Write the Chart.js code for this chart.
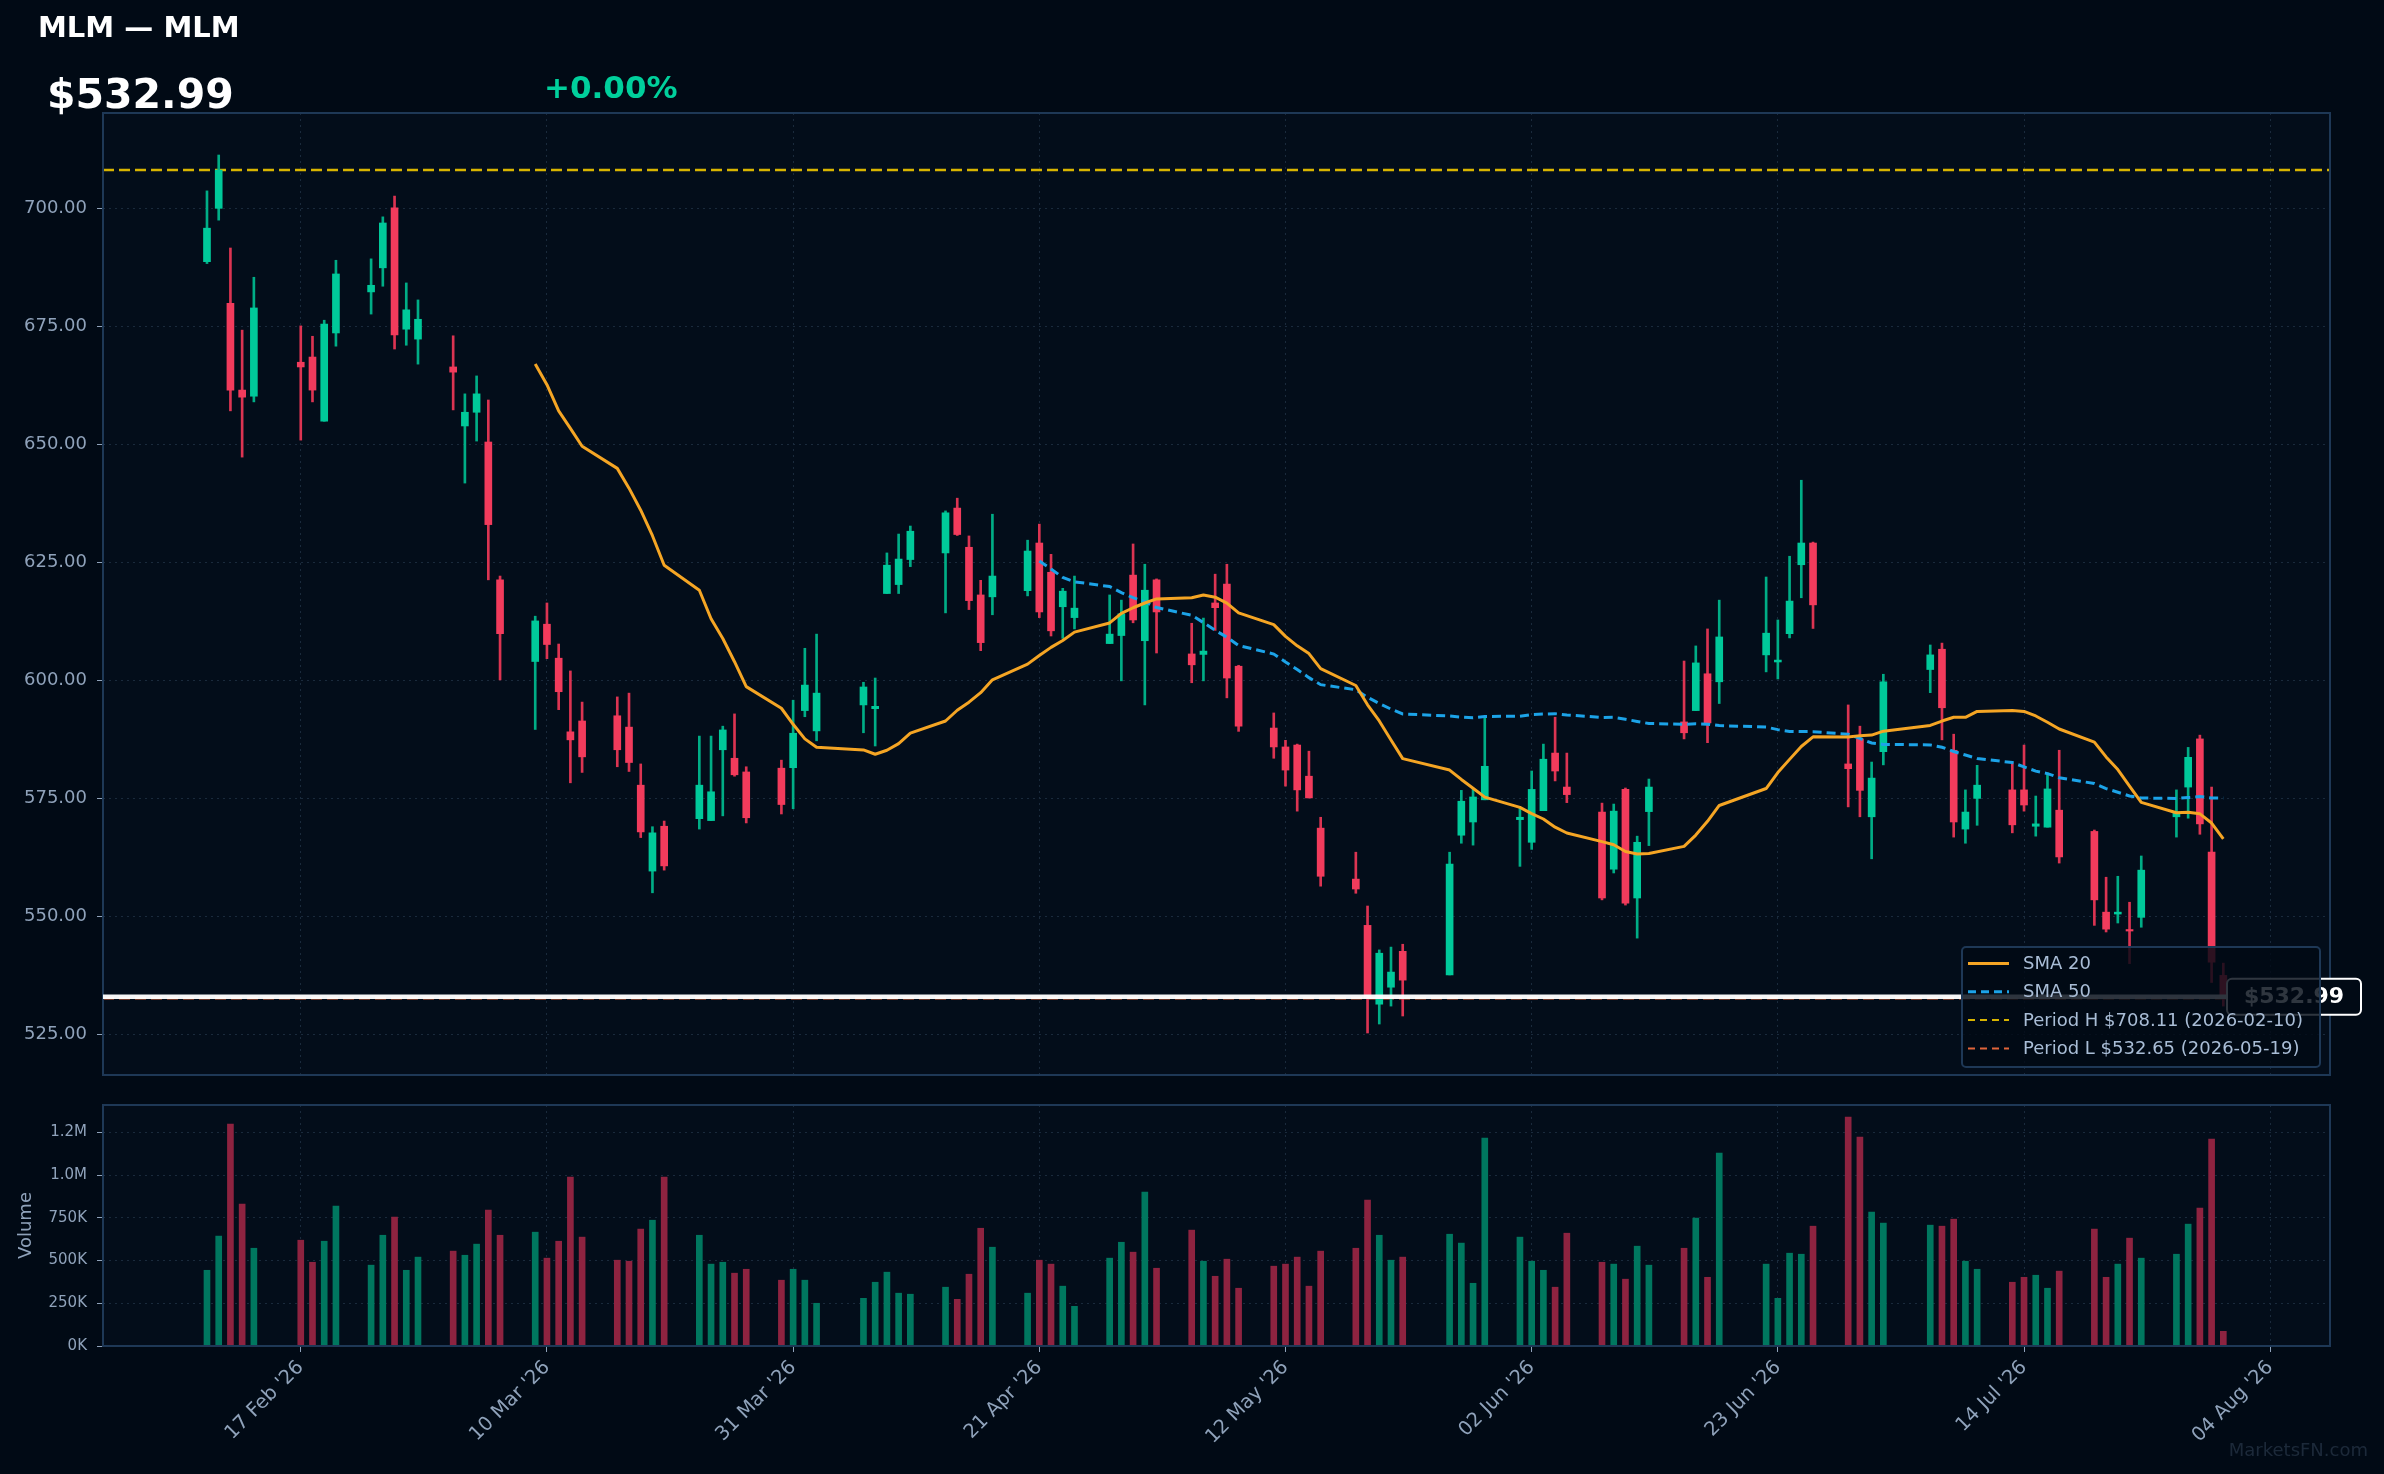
<!DOCTYPE html>
<html>
<head>
<meta charset="utf-8">
<title>MLM — MLM</title>
<script src="https://cdn.jsdelivr.net/npm/chart.js@4.4.1/dist/chart.umd.min.js"></script>
<style>
  html, body { margin: 0; padding: 0; background: #010a15; }
  body { width: 2384px; height: 1474px; position: relative; overflow: hidden; }
  canvas { position: absolute; left: 0; }
  #priceChart { top: 0; }
  #volumeChart { top: 1090px; }
</style>
</head>
<body>
<canvas id="priceChart" width="2384" height="1090"></canvas>
<canvas id="volumeChart" width="2384" height="384"></canvas>
<script>
// Daily sessions
const dates = [
  '2026-02-09','2026-02-10','2026-02-11','2026-02-12','2026-02-13',
  '2026-02-17','2026-02-18','2026-02-19','2026-02-20',
  '2026-02-23','2026-02-24','2026-02-25','2026-02-26','2026-02-27',
  '2026-03-02','2026-03-03','2026-03-04','2026-03-05','2026-03-06',
  '2026-03-09','2026-03-10','2026-03-11','2026-03-12','2026-03-13',
  '2026-03-16','2026-03-17','2026-03-18','2026-03-19','2026-03-20',
  '2026-03-23','2026-03-24','2026-03-25','2026-03-26','2026-03-27',
  '2026-03-30','2026-03-31','2026-04-01','2026-04-02',
  '2026-04-06','2026-04-07','2026-04-08','2026-04-09','2026-04-10',
  '2026-04-13','2026-04-14','2026-04-15','2026-04-16','2026-04-17',
  '2026-04-20','2026-04-21','2026-04-22','2026-04-23','2026-04-24',
  '2026-04-27','2026-04-28','2026-04-29','2026-04-30','2026-05-01',
  '2026-05-04','2026-05-05','2026-05-06','2026-05-07','2026-05-08',
  '2026-05-11','2026-05-12','2026-05-13','2026-05-14','2026-05-15',
  '2026-05-18','2026-05-19','2026-05-20','2026-05-21','2026-05-22',
  '2026-05-26','2026-05-27','2026-05-28','2026-05-29',
  '2026-06-01','2026-06-02','2026-06-03','2026-06-04','2026-06-05',
  '2026-06-08','2026-06-09','2026-06-10','2026-06-11','2026-06-12',
  '2026-06-15','2026-06-16','2026-06-17','2026-06-18',
  '2026-06-22','2026-06-23','2026-06-24','2026-06-25','2026-06-26',
  '2026-06-29','2026-06-30','2026-07-01','2026-07-02',
  '2026-07-06','2026-07-07','2026-07-08','2026-07-09','2026-07-10',
  '2026-07-13','2026-07-14','2026-07-15','2026-07-16','2026-07-17',
  '2026-07-20','2026-07-21','2026-07-22','2026-07-23','2026-07-24',
  '2026-07-27','2026-07-28','2026-07-29','2026-07-30','2026-07-31'
];

const open = [
  688.7, 700.0, 679.9, 661.5, 660.2,
  667.4, 668.5, 654.9, 673.6,
  682.3, 687.4, 700.1, 674.4, 672.3,
  666.4, 653.9, 656.8, 650.5, 621.3,
  604.0, 611.9, 604.7, 589.1, 591.4,
  592.5, 590.1, 577.8, 559.6, 569.1,
  570.7, 570.3, 585.3, 583.5, 580.6,
  581.4, 581.5, 593.6, 589.3,
  594.8, 594.0, 618.4, 620.3, 625.6,
  627.0, 636.5, 628.2, 618.1, 617.7,
  619.0, 629.1, 622.9, 615.6, 613.3,
  607.8, 609.5, 622.3, 608.4, 621.3,
  605.6, 605.5, 616.4, 620.4, 603.0,
  589.9, 585.9, 586.3, 579.7, 568.7,
  557.9, 548.1, 531.4, 535.0, 542.6,
  537.6, 567.2, 570.0, 574.7,
  570.5, 565.7, 572.4, 584.6, 577.4,
  572.1, 560.0, 576.9, 553.9, 572.2,
  591.2, 593.6, 601.4, 599.7,
  605.4, 603.9, 609.9, 624.5, 629.1,
  582.3, 587.6, 571.1, 584.9,
  602.3, 606.6, 585.2, 568.5, 575.0,
  576.8, 576.8, 569.1, 568.9, 572.5,
  568.0, 550.9, 550.5, 547.1, 549.8,
  571.1, 577.4, 587.6, 563.6, 537.5
];

const high = [
  703.7, 711.3, 691.6, 674.2, 685.4,
  675.1, 672.9, 676.3, 689.0,
  689.3, 698.2, 702.6, 684.2, 680.6,
  673.0, 660.7, 664.5, 659.4, 622.1,
  613.6, 616.4, 607.7, 602.0, 595.4,
  596.5, 597.3, 582.3, 569.0, 570.2,
  588.2, 588.2, 590.3, 592.9, 581.7,
  583.1, 595.8, 606.8, 609.8,
  599.6, 600.5, 627.0, 631.0, 632.7,
  635.9, 638.6, 630.6, 621.2, 635.2,
  629.7, 633.1, 626.7, 619.5, 622.1,
  618.1, 617.0, 628.9, 624.6, 621.5,
  612.1, 613.2, 622.5, 624.6, 603.2,
  593.1, 587.3, 586.5, 585.0, 571.0,
  563.6, 552.2, 542.9, 543.5, 544.1,
  563.6, 576.7, 577.1, 592.4,
  572.9, 580.8, 586.5, 592.2, 584.6,
  574.0, 573.8, 577.2, 567.0, 579.1,
  604.1, 607.3, 610.9, 617.0,
  621.9, 612.8, 626.3, 642.4, 629.3,
  594.8, 590.3, 582.7, 601.3,
  607.5, 607.9, 588.6, 576.8, 582.0,
  582.5, 586.3, 575.5, 580.4, 585.2,
  568.3, 558.3, 558.5, 553.0, 562.8,
  576.8, 585.8, 588.4, 577.4, 540.1
];

const low = [
  688.3, 697.5, 657.1, 647.3, 659.0,
  650.9, 659.0, 654.9, 670.8,
  677.6, 683.5, 670.2, 671.0, 667.0,
  657.3, 641.8, 650.7, 621.3, 600.1,
  589.6, 604.6, 593.8, 578.3, 580.5,
  581.7, 580.7, 566.7, 555.0, 559.8,
  568.5, 570.3, 571.3, 579.7, 569.8,
  571.7, 572.8, 592.3, 587.2,
  588.9, 586.1, 618.4, 618.4, 624.1,
  614.3, 630.7, 615.0, 606.3, 613.9,
  617.9, 613.3, 609.4, 608.9, 610.9,
  607.8, 599.9, 612.2, 594.8, 605.8,
  599.5, 599.9, 610.6, 596.3, 589.2,
  583.5, 577.6, 572.3, 575.1, 556.4,
  554.9, 525.3, 527.2, 531.0, 528.9,
  537.6, 565.5, 565.1, 574.7,
  560.6, 564.2, 572.4, 578.7, 574.1,
  553.5, 559.2, 552.4, 545.4, 565.0,
  587.6, 593.6, 586.8, 595.1,
  601.8, 600.3, 609.0, 617.5, 611.0,
  573.2, 571.1, 562.2, 582.1,
  597.4, 587.4, 566.8, 565.5, 569.3,
  567.7, 572.3, 567.0, 568.9, 561.3,
  548.1, 546.7, 548.6, 540.0, 547.7,
  566.8, 570.8, 567.4, 536.0, 531.0
];

const close = [
  695.8, 708.11, 661.5, 660.0, 678.9,
  666.4, 661.5, 675.5, 686.1,
  683.7, 696.9, 673.2, 678.5, 676.5,
  665.3, 656.8, 660.7, 633.0, 609.9,
  612.6, 607.6, 597.6, 587.4, 583.8,
  585.3, 582.6, 567.9, 567.7, 560.7,
  577.8, 576.4, 589.5, 580.0, 570.9,
  573.7, 588.8, 599.0, 597.3,
  598.6, 594.5, 624.4, 625.7, 631.6,
  635.5, 630.9, 616.9, 608.0, 622.1,
  627.4, 614.5, 610.5, 618.9, 615.3,
  609.8, 614.1, 612.8, 619.1, 614.5,
  603.3, 606.2, 615.4, 600.5, 590.3,
  585.9, 581.0, 576.8, 575.1, 558.5,
  555.8, 532.65, 542.2, 538.2, 536.5,
  561.1, 574.4, 575.3, 581.8,
  571.0, 576.9, 583.3, 580.8, 575.8,
  553.9, 572.3, 552.8, 565.7, 577.4,
  588.9, 603.7, 591.0, 609.2,
  610.0, 604.3, 616.8, 629.1, 616.0,
  581.3, 576.7, 579.3, 599.7,
  605.4, 594.2, 570.0, 572.1, 577.8,
  569.4, 573.6, 569.6, 577.0, 562.6,
  553.5, 547.3, 550.9, 546.9, 559.8,
  572.1, 583.7, 569.6, 540.3, 532.99
];

const volume = [
  443000, 643000, 1299000, 830000, 572000,
  619000, 490000, 613000, 818000,
  473000, 648000, 754000, 443000, 520000,
  555000, 531000, 596000, 795000, 648000,
  666000, 514000, 613000, 988000, 637000,
  502000, 496000, 684000, 736000, 988000,
  648000, 479000, 490000, 426000, 449000,
  385000, 449000, 385000, 250000,
  279000, 373000, 432000, 309000, 303000,
  344000, 273000, 420000, 689000, 578000,
  309000, 502000, 479000, 350000, 232000,
  514000, 607000, 549000, 900000, 455000,
  678000, 496000, 408000, 508000, 338000,
  467000, 479000, 520000, 350000, 555000,
  572000, 854000, 648000, 502000, 520000,
  654000, 602000, 367000, 1217000,
  637000, 496000, 443000, 344000, 660000,
  490000, 479000, 391000, 584000, 473000,
  572000, 748000, 402000, 1129000,
  479000, 279000, 543000, 537000, 701000,
  1340000, 1223000, 783000, 719000,
  707000, 701000, 742000, 496000, 449000,
  373000, 402000, 414000, 338000, 438000,
  684000, 402000, 479000, 631000, 514000,
  537000, 713000, 807000, 1211000, 86000
];

const yTicks = [525, 550, 575, 600, 625, 650, 675, 700];
const volTicks = [0, 250000, 500000, 750000, 1000000, 1250000];
const volTickLabels = ['0K', '250K', '500K', '750K', '1.0M', '1.2M'];
const xTickDates = ['2026-02-17', '2026-03-10', '2026-03-31', '2026-04-21', '2026-05-12',
                    '2026-06-02', '2026-06-23', '2026-07-14', '2026-08-04'];
const xTickLabels = ["17 Feb '26", "10 Mar '26", "31 Mar '26", "21 Apr '26", "12 May '26",
                     "02 Jun '26", "23 Jun '26", "14 Jul '26", "04 Aug '26"];

const ticker = 'MLM';
const changeText = '+0.00%';

// axis ranges (days counted from the first session)
const xMin = -8.87, xMax = 181.1;
const yMin = 516.4, yMax = 720.2;
const volMax = 1410000;

// colours
const BG = '#010a15';
const PLOT_BG = '#030d1a';
const FRAME = '#1e3856';
const GRID = '#1a2a3c';
const TICK = '#8fa2ba';
const UP = '#00c99a', DOWN = '#f23b5c';
const UP_WICK = '#00ad86', DOWN_WICK = '#dc3452';
const UP_VOL = '#00775f', DOWN_VOL = '#8e2340';
const SMA20_COLOR = '#f5a524', SMA50_COLOR = '#1ca3e8';
const HI_COLOR = '#d8b400', LO_COLOR = '#e0643a';

Chart.defaults.font.family = "'DejaVu Sans', sans-serif";

const day0 = Date.parse(dates[0]);
const toDay = s => (Date.parse(s) - day0) / 864e5;
const days = dates.map(toDay);
const xTickDays = xTickDates.map(toDay);
const isUp = close.map((c, i) => c >= open[i]);

const lastClose = close[close.length - 1];
const periodHigh = Math.max(...close);
const periodLow = Math.min(...close);
const periodHighDate = dates[close.indexOf(periodHigh)];
const periodLowDate = dates[close.indexOf(periodLow)];

function sma(values, n) {
  const out = [];
  for (let i = n - 1; i < values.length; i++) {
    let sum = 0;
    for (let j = i - n + 1; j <= i; j++) sum += values[j];
    out.push({ x: days[i], y: sum / n });
  }
  return out;
}

// keep the plot areas exactly where the padding puts them
function fixY(s) { s.width = 103; s.paddingTop = 0; s.paddingBottom = 0; }
function fixX(h) { return s => { s.height = h; s.paddingLeft = 0; s.paddingRight = 0; }; }

// plot background + frame, shared by both panels
const panelPlugin = {
  id: 'panel',
  beforeDraw(chart) {
    const { ctx, chartArea: a } = chart;
    ctx.save();
    ctx.fillStyle = PLOT_BG;
    ctx.fillRect(a.left, a.top, a.width, a.height);
    ctx.restore();
  },
  afterDatasetsDraw(chart) {
    const { ctx, chartArea: a } = chart;
    ctx.save();
    ctx.strokeStyle = FRAME;
    ctx.lineWidth = 2;
    ctx.strokeRect(a.left, a.top, a.width, a.height);
    ctx.restore();
  }
};

function roundRect(ctx, x, y, w, h, r) {
  ctx.beginPath();
  ctx.moveTo(x + r, y);
  ctx.arcTo(x + w, y, x + w, y + h, r);
  ctx.arcTo(x + w, y + h, x, y + h, r);
  ctx.arcTo(x, y + h, x, y, r);
  ctx.arcTo(x, y, x + w, y, r);
  ctx.closePath();
}

// header, last price line + tag, legend
const pricePlugin = {
  id: 'priceExtras',
  afterDraw(chart) {
    const { ctx, chartArea: a } = chart;
    const yScale = chart.scales.y;
    ctx.save();

    // header
    ctx.textBaseline = 'alphabetic';
    ctx.textAlign = 'left';
    ctx.fillStyle = '#ffffff';
    ctx.font = "bold 29px 'DejaVu Sans'";
    ctx.fillText(`${ticker} — ${ticker}`, 38, 37);
    ctx.font = "bold 41px 'DejaVu Sans'";
    ctx.fillText('$' + lastClose.toFixed(2), 47, 108);
    ctx.fillStyle = '#00d09c';
    ctx.font = "bold 31px 'DejaVu Sans'";
    ctx.fillText(changeText, 544, 98);

    // last price line
    const py = yScale.getPixelForValue(lastClose);
    const tagX = 2227, tagW = 134, tagH = 36;
    ctx.strokeStyle = 'rgba(255,255,255,0.96)';
    ctx.lineWidth = 4.5;
    ctx.beginPath();
    ctx.moveTo(a.left, py);
    ctx.lineTo(tagX, py);
    ctx.stroke();

    roundRect(ctx, tagX, py - tagH / 2, tagW, tagH, 5);
    ctx.fillStyle = BG;
    ctx.fill();
    ctx.strokeStyle = '#ffffff';
    ctx.lineWidth = 2;
    ctx.stroke();
    ctx.fillStyle = '#ffffff';
    ctx.font = "bold 22px 'DejaVu Sans'";
    ctx.textAlign = 'center';
    ctx.textBaseline = 'middle';
    ctx.fillText('$' + lastClose.toFixed(2), tagX + tagW / 2, py + 1);

    // legend
    const items = [
      { text: 'SMA 20', color: SMA20_COLOR, dash: [], width: 3 },
      { text: 'SMA 50', color: SMA50_COLOR, dash: [8, 5], width: 3 },
      { text: `Period H $${periodHigh.toFixed(2)} (${periodHighDate})`, color: HI_COLOR, dash: [7, 5], width: 2 },
      { text: `Period L $${periodLow.toFixed(2)} (${periodLowDate})`, color: LO_COLOR, dash: [7, 5], width: 2 }
    ];
    const lx = 1962, ly = 947, lw = 358, lh = 120;
    roundRect(ctx, lx, ly, lw, lh, 4);
    ctx.fillStyle = 'rgba(1,10,21,0.82)';
    ctx.fill();
    ctx.strokeStyle = FRAME;
    ctx.lineWidth = 2;
    ctx.stroke();

    ctx.font = "18px 'DejaVu Sans'";
    ctx.textAlign = 'left';
    ctx.textBaseline = 'middle';
    items.forEach((it, i) => {
      const ry = 963.5 + i * 28.3;
      ctx.strokeStyle = it.color;
      ctx.lineWidth = it.width;
      ctx.setLineDash(it.dash);
      ctx.beginPath();
      ctx.moveTo(1968, ry);
      ctx.lineTo(2009, ry);
      ctx.stroke();
      ctx.setLineDash([]);
      ctx.fillStyle = '#a9bdd6';
      ctx.fillText(it.text, 2023, ry + 1);
    });

    ctx.restore();
  }
};

const watermarkPlugin = {
  id: 'watermark',
  afterDraw(chart) {
    const { ctx } = chart;
    ctx.save();
    ctx.font = "18px 'DejaVu Sans'";
    ctx.fillStyle = 'rgba(80,100,125,0.35)';
    ctx.textAlign = 'right';
    ctx.textBaseline = 'middle';
    ctx.fillText('MarketsFN.com', 2368, 361);
    ctx.restore();
  }
};

const priceChart = new Chart(document.getElementById('priceChart'), {
  type: 'bar',
  data: {
    datasets: [
      {
        type: 'line', label: 'SMA 20', data: sma(close, 20),
        borderColor: SMA20_COLOR, borderWidth: 3, pointRadius: 0,
        borderJoinStyle: 'round', order: 0
      },
      {
        type: 'line', label: 'SMA 50', data: sma(close, 50),
        borderColor: SMA50_COLOR, borderWidth: 3, borderDash: [9, 5], pointRadius: 0, order: 1
      },
      {
        label: 'Body', data: days.map((d, i) => ({ x: d, y: [open[i], close[i]] })),
        backgroundColor: isUp.map(u => u ? UP : DOWN),
        barThickness: 7, minBarLength: 1.5, grouped: false, order: 2
      },
      {
        label: 'Wick', data: days.map((d, i) => ({ x: d, y: [low[i], high[i]] })),
        backgroundColor: isUp.map(u => u ? UP_WICK : DOWN_WICK),
        barThickness: 2, grouped: false, order: 3
      },
      {
        type: 'line', label: 'Period H', data: [{ x: xMin, y: periodHigh }, { x: xMax, y: periodHigh }],
        borderColor: HI_COLOR, borderWidth: 2.5, borderDash: [11, 5], pointRadius: 0, order: 4
      },
      {
        type: 'line', label: 'Period L', data: [{ x: xMin, y: periodLow }, { x: xMax, y: periodLow }],
        borderColor: LO_COLOR, borderWidth: 2.5, borderDash: [11, 5], pointRadius: 0, order: 5
      }
    ]
  },
  options: {
    responsive: false,
    animation: false,
    layout: { padding: { left: 0, top: 113, right: 54, bottom: 15 } },
    plugins: { legend: { display: false }, tooltip: { enabled: false } },
    scales: {
      x: {
        type: 'linear', min: xMin, max: xMax, offset: false,
        grid: { color: GRID, lineWidth: 1, drawTicks: false, offset: false },
        border: { display: false, dash: [2, 4] },
        ticks: { display: false },
        afterBuildTicks: s => { s.ticks = xTickDays.map(v => ({ value: v })); },
        afterFit: fixX(0)
      },
      y: {
        type: 'linear', min: yMin, max: yMax, position: 'left',
        grid: { color: GRID, lineWidth: 1, drawTicks: true, tickLength: 6, tickColor: TICK },
        border: { display: false, dash: [2, 4] },
        ticks: { color: TICK, font: { size: 18 }, padding: 10, callback: v => v.toFixed(2) },
        afterBuildTicks: s => { s.ticks = yTicks.map(v => ({ value: v })); },
        afterFit: fixY
      }
    }
  },
  plugins: [panelPlugin, pricePlugin]
});

const volumeChart = new Chart(document.getElementById('volumeChart'), {
  type: 'bar',
  data: {
    datasets: [{
      label: 'Volume',
      data: days.map((d, i) => ({ x: d, y: volume[i] })),
      backgroundColor: isUp.map(u => u ? UP_VOL : DOWN_VOL),
      barThickness: 6, grouped: false
    }]
  },
  options: {
    responsive: false,
    animation: false,
    layout: { padding: { left: 0, top: 15, right: 54, bottom: 0 } },
    plugins: { legend: { display: false }, tooltip: { enabled: false } },
    scales: {
      x: {
        type: 'linear', min: xMin, max: xMax, offset: false,
        grid: { color: GRID, lineWidth: 1, drawTicks: true, tickLength: 6, tickColor: TICK, offset: false },
        border: { display: false, dash: [2, 4] },
        ticks: {
          color: TICK, font: { size: 19.5 }, minRotation: 45, maxRotation: 45,
          autoSkip: false, padding: 4, callback: (v, i) => xTickLabels[i]
        },
        afterBuildTicks: s => { s.ticks = xTickDays.map(v => ({ value: v })); },
        afterFit: fixX(128)
      },
      y: {
        type: 'linear', min: 0, max: volMax, position: 'left',
        grid: { color: GRID, lineWidth: 1, drawTicks: true, tickLength: 6, tickColor: TICK },
        border: { display: false, dash: [2, 4] },
        ticks: { color: TICK, font: { size: 15 }, padding: 10, callback: (v, i) => volTickLabels[i] },
        title: { display: true, text: 'Volume', color: TICK, font: { size: 18 }, padding: { top: 16 } },
        afterBuildTicks: s => { s.ticks = volTicks.map(v => ({ value: v })); },
        afterFit: fixY
      }
    }
  },
  plugins: [panelPlugin, watermarkPlugin]
});
</script>
</body>
</html>
